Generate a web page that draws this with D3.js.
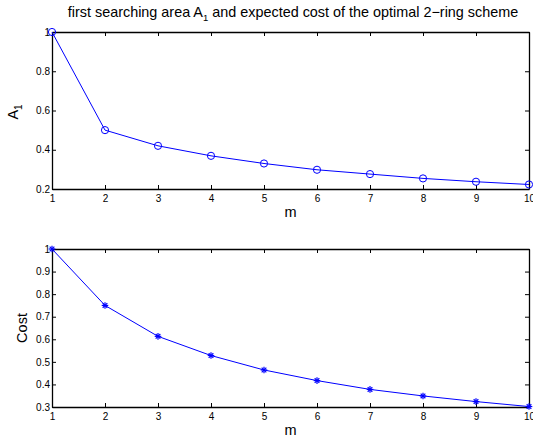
<html lang="en">
<head>
  <meta charset="UTF-8"/>
  <script src="https://d3js.org/d3.v7.min.js"></script>
  <style>
body {
  margin: 0;
  background: white;
  font-family: 'Liberation Sans', Arial, sans-serif;
}
svg {
  display: block;
}
text {
  fill: black;
}
.tick text {
  font-size: 10px;
}
.tick line, .domain {
  stroke: black;
}
text.title {
  font-size: 14.4px;
}
text.axis_title {
  font-size: 14.5px;
}
.line {
  fill: none;
  stroke: #0000ff;
  stroke-width: 1;
}
</style>
</head>
<body>
<svg width="533" height="443"></svg>
<script>

  const m = [1, 2, 3, 4, 5, 6, 7, 8, 9, 10];
  const areaA1 = [1.0, 0.5, 0.42, 0.369, 0.330, 0.298, 0.276, 0.254, 0.237, 0.223];
  const cost = [1.0, 0.75, 0.613, 0.528, 0.464, 0.417, 0.378, 0.349, 0.324, 0.302];

  const topTicks = [0.2, 0.4, 0.6, 0.8, 1];
  const bottomTicks = [0.3, 0.4, 0.5, 0.6, 0.7, 0.8, 0.9, 1];

  const svg = d3.select('svg');

  const left = 52, right = 529;

  const x = d3.scaleLinear()
    .domain([1, 10])
    .range([left, right]);

  function drawPanel(top, bottom, yDomain, yTicks, values, marker) {
    const y = d3.scaleLinear().domain(yDomain).range([bottom, top]);
    const g = svg.append('g');

    // inward ticks on all four sides, MATLAB style
    g.append('g')
      .attr('transform', `translate(0,${bottom})`)
      .call(d3.axisBottom(x).tickValues(m).tickSizeInner(-4).tickSizeOuter(0).tickPadding(6).tickFormat(d3.format('d')));
    g.append('g')
      .attr('transform', `translate(0,${top})`)
      .call(d3.axisTop(x).tickValues(m).tickSizeInner(-4).tickSizeOuter(0).tickFormat(''));
    g.append('g')
      .attr('transform', `translate(${left},0)`)
      .call(d3.axisLeft(y).tickValues(yTicks).tickSizeInner(-4).tickSizeOuter(0).tickPadding(2).tickFormat(d => d === 1 ? '1' : d3.format('.1f')(d)));
    g.append('g')
      .attr('transform', `translate(${right},0)`)
      .call(d3.axisRight(y).tickValues(yTicks).tickSizeInner(-4).tickSizeOuter(0).tickFormat(''));

    g.selectAll('.tick text').attr('fill', 'black');
    g.selectAll('.domain').attr('stroke-width', 1.3);

    const line = d3.line()
      .x((d, i) => x(m[i]))
      .y(d => y(d));

    g.append('path')
      .datum(values)
      .attr('class', 'line')
      .attr('d', line);

    const pts = g.selectAll('.pt')
      .data(values)
      .enter()
      .append('g')
      .attr('transform', (d, i) => `translate(${x(m[i])},${y(d)})`);

    if (marker === 'circle') {
      pts.append('circle')
        .attr('r', 3.6)
        .attr('fill', 'none')
        .attr('stroke', '#0000ff')
        .attr('stroke-width', 1);
    } else {
      const s = 3.3;
      [0, 45, 90, 135].forEach(a => {
        pts.append('line')
          .attr('x1', -s).attr('x2', s)
          .attr('y1', 0).attr('y2', 0)
          .attr('transform', `rotate(${a})`)
          .attr('stroke', '#0000ff')
          .attr('stroke-width', 1.2);
      });
    }

    svg.append('text')
      .attr('class', 'axis_title')
      .attr('text-anchor', 'middle')
      .attr('x', (left + right) / 2)
      .attr('y', bottom + 28)
      .text('m');
  }

  drawPanel(32, 189, [0.2, 1], topTicks, areaA1, 'circle');
  drawPanel(249, 407, [0.3, 1], bottomTicks, cost, 'star');

  // y axis titles
  const a1 = svg.append('text')
    .attr('class', 'axis_title')
    .attr('text-anchor', 'middle')
    .attr('transform', 'translate(18,112) rotate(-90)');
  a1.append('tspan').text('A');
  a1.append('tspan').attr('font-size', '10px').attr('dy', 4).text('1');

  svg.append('text')
    .attr('class', 'axis_title')
    .attr('text-anchor', 'middle')
    .attr('transform', 'translate(27,328) rotate(-90)')
    .text('Cost');

  const title = svg.append('text')
    .attr('class', 'title')
    .attr('text-anchor', 'middle')
    .attr('x', 293)
    .attr('y', 17);
  title.append('tspan').text('first searching area A');
  title.append('tspan').attr('font-size', '9.5px').attr('dy', 4).text('1');
  title.append('tspan').attr('dy', -4).text(' and expected cost of the optimal 2\u2212ring scheme');

</script>
</body>
</html>
